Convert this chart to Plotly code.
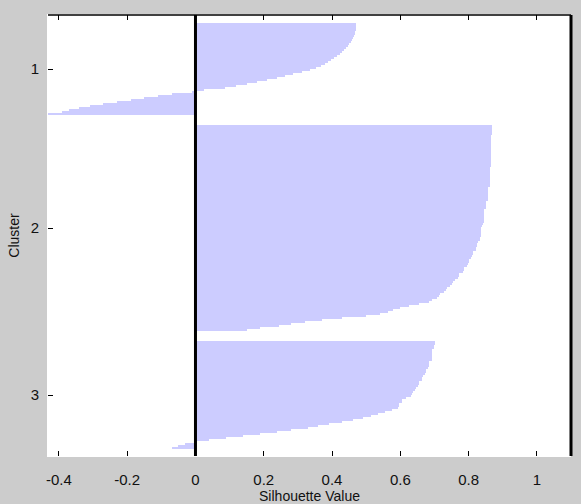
import plotly.graph_objects as go
import numpy as np

cluster_names = ["1", "2", "3"]

sil_c1 = [0.471, 0.470, 0.470, 0.469, 0.468, 0.466, 0.464, 0.461, 0.458, 0.455,
          0.451, 0.446, 0.441, 0.436, 0.430, 0.423, 0.415, 0.406, 0.397, 0.388,
          0.378, 0.367, 0.352, 0.335, 0.312, 0.287, 0.262, 0.238, 0.210, 0.180,
          0.150, 0.118, 0.085, 0.025,
          -0.01, -0.07, -0.11, -0.15, -0.19, -0.23, -0.27, -0.31, -0.34, -0.37,
          -0.39, -0.44]

sil_c2 = [0.868, 0.868, 0.868, 0.868, 0.868, 0.867, 0.867, 0.867, 0.867, 0.867,
          0.867, 0.866, 0.866, 0.866, 0.866, 0.866, 0.865, 0.865, 0.865, 0.865,
          0.865, 0.864, 0.864, 0.864, 0.864, 0.863, 0.863, 0.863, 0.863, 0.862,
          0.862,
          0.858, 0.858, 0.857, 0.857, 0.857, 0.856, 0.856,
          0.851, 0.851, 0.850, 0.850,
          0.846, 0.846, 0.845, 0.845, 0.845, 0.844, 0.844, 0.843,
          0.838, 0.837, 0.837, 0.836, 0.836, 0.835, 0.834, 0.833,
          0.827, 0.826, 0.825, 0.823, 0.821,
          0.813, 0.812, 0.810, 0.808,
          0.801, 0.800, 0.798, 0.795,
          0.788, 0.786, 0.783,
          0.773, 0.771, 0.768,
          0.760, 0.755, 0.750, 0.745,
          0.736, 0.733, 0.729,
          0.717, 0.713, 0.708,
          0.692, 0.685,
          0.655, 0.625, 0.600, 0.580, 0.565, 0.540, 0.500, 0.430, 0.370, 0.320,
          0.280, 0.245, 0.190, 0.150]

sil_c3 = [0.702, 0.701, 0.700, 0.700,
          0.694, 0.694, 0.693, 0.693, 0.692, 0.692,
          0.684, 0.684, 0.683, 0.682,
          0.675, 0.674, 0.673,
          0.665, 0.664, 0.663,
          0.655, 0.654, 0.653,
          0.646, 0.644,
          0.636, 0.634, 0.632,
          0.616,
          0.606, 0.604,
          0.597, 0.595, 0.593,
          0.575, 0.555, 0.535, 0.515, 0.490, 0.460, 0.430, 0.390, 0.360, 0.330,
          0.280, 0.240, 0.190, 0.140, 0.090, 0.040, 0.005, -0.030, -0.050, -0.070]

x_tick_vals = [-0.4, -0.2, 0, 0.2, 0.4, 0.6, 0.8, 1]
x_tick_text = ["-0.4", "-0.2", "0", "0.2", "0.4", "0.6", "0.8", "1"]

# layout of bar positions (MATLAB-style silhouette spacing)
lead_gap = 4
space = 5
trail_gap = 3.5

clusters = [sil_c1, sil_c2, sil_c3]
ys, xs, centers = [], [], []
start = lead_gap + 1
for vals in clusters:
    pos = np.arange(start, start + len(vals))
    ys.extend(pos.tolist())
    xs.extend(vals)
    centers.append((pos[0] + pos[-1]) / 2)
    start = pos[-1] + 1 + space
y_bottom = ys[-1] + 0.5 + trail_gap

fig = go.Figure()
fig.add_trace(go.Bar(
    x=xs, y=ys, orientation="h", width=1.0,
    marker=dict(color="#ccccff", line=dict(width=0)),
    hoverinfo="skip", showlegend=False,
))

font = dict(family="Liberation Sans, Arial, Helvetica, sans-serif", size=14, color="#111111")
tfont = dict(family="Liberation Sans, Arial, Helvetica, sans-serif", size=15, color="#111111")

fig.update_layout(
    width=581, height=504,
    margin=dict(l=48, r=10, t=15, b=48),
    paper_bgcolor="#cccccc",
    plot_bgcolor="#ffffff",
    bargap=0,
    font=font,
    xaxis=dict(
        range=[-0.432, 1.1],
        tickvals=x_tick_vals, ticktext=x_tick_text,
        ticks="inside", ticklen=5, tickwidth=1, tickcolor="#000000",
        mirror="ticks", showline=True, linecolor="#ffffff", linewidth=1,
        showgrid=False, zeroline=False,
        title=dict(text="Silhouette Value", font=font, standoff=5),
        tickfont=tfont, automargin=False, ticklabelstandoff=10,
    ),
    yaxis=dict(
        range=[y_bottom, 0.5],
        tickvals=centers, ticktext=cluster_names,
        ticks="inside", ticklen=5, tickwidth=1, tickcolor="#000000",
        showline=True, linecolor="#ffffff", linewidth=1,
        showgrid=False, zeroline=False,
        title=dict(text="Cluster", font=font, standoff=7),
        tickfont=tfont, automargin=False, ticklabelstandoff=5,
    ),
    shapes=[
        dict(type="line", xref="paper", yref="paper", x0=0, x1=1, y0=1, y1=1,
             line=dict(color="#000000", width=1.5)),
        dict(type="line", xref="paper", yref="paper", x0=1, x1=1, y0=0, y1=1,
             line=dict(color="#000000", width=3)),
        dict(type="line", xref="x", yref="paper", x0=0, x1=0, y0=0, y1=1,
             line=dict(color="#000000", width=3)),
    ],
)

fig.write_html("out.html", config={"displayModeBar": False},
               post_script="document.body.style.margin='0';")
